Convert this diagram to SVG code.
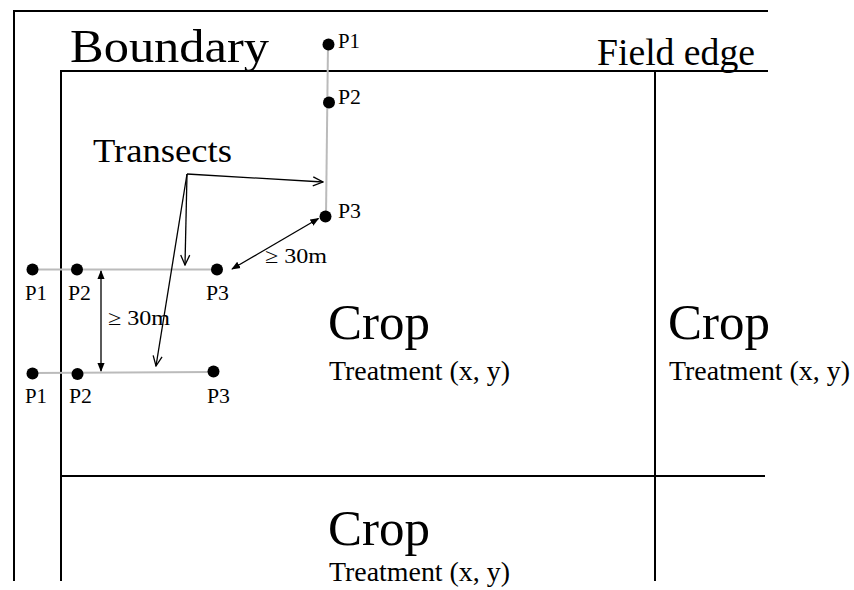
<svg xmlns="http://www.w3.org/2000/svg" width="854" height="590" viewBox="0 0 854 590">
<defs>
<style>
.frame{stroke:#000;stroke-width:2;fill:none}
.tr{stroke:#bbbbbb;stroke-width:2;fill:none}
.dot{fill:#000}
.ln{stroke:#000;stroke-width:1.3;fill:none}
text{font-family:"Liberation Serif","Times New Roman",serif;fill:#000}
.p{font-size:21px}
.crop{font-size:50px}
.treat{font-size:27px}
.dist{font-size:21px}
</style>
<marker id="fa" viewBox="0 0 10 10" refX="9" refY="5" markerWidth="9" markerHeight="9" markerUnits="userSpaceOnUse" orient="auto-start-reverse">
<path d="M0,1 L10,5 L0,9 Z" fill="#000"/>
</marker>
<marker id="oa" viewBox="0 0 12 12" refX="11" refY="6" markerWidth="12" markerHeight="12" markerUnits="userSpaceOnUse" orient="auto">
<path d="M1,1.5 L11,6 L1,10.5" fill="none" stroke="#000" stroke-width="1.3"/>
</marker>
</defs>
<rect width="854" height="590" fill="#fff"/>
<g id="field">
<line class="frame" x1="14" y1="11" x2="768" y2="11"/>
<line class="frame" x1="14" y1="10" x2="14" y2="581"/>
<line class="frame" x1="61" y1="71" x2="768" y2="71"/>
<line class="frame" x1="61" y1="70" x2="61" y2="581"/>
<line class="frame" x1="655" y1="71" x2="655" y2="581"/>
<line class="frame" x1="61" y1="476" x2="765" y2="476"/>
</g>
<g id="labels">
<text x="70" y="62" font-size="47" textLength="199" lengthAdjust="spacingAndGlyphs">Boundary</text>
<text x="597" y="65" font-size="37" textLength="158" lengthAdjust="spacingAndGlyphs">Field edge</text>
<text x="93" y="162" font-size="34" textLength="139" lengthAdjust="spacingAndGlyphs">Transects</text>
</g>
<g id="plot-centre">
<text class="crop" x="328" y="339" textLength="102" lengthAdjust="spacingAndGlyphs">Crop</text>
<text class="treat" x="329" y="380" textLength="181" lengthAdjust="spacingAndGlyphs">Treatment (x, y)</text>
</g>
<g id="plot-right">
<text class="crop" x="668" y="339" textLength="102" lengthAdjust="spacingAndGlyphs">Crop</text>
<text class="treat" x="669" y="380" textLength="181" lengthAdjust="spacingAndGlyphs">Treatment (x, y)</text>
</g>
<g id="plot-bottom">
<text class="crop" x="328" y="545" textLength="102" lengthAdjust="spacingAndGlyphs">Crop</text>
<text class="treat" x="329" y="581" textLength="181" lengthAdjust="spacingAndGlyphs">Treatment (x, y)</text>
</g>
<g id="transect-top">
<line class="tr" x1="328" y1="44" x2="326" y2="216"/>
<circle class="dot" cx="328.5" cy="44.5" r="6"/>
<circle class="dot" cx="329" cy="102.5" r="6"/>
<circle class="dot" cx="325.5" cy="216.5" r="6"/>
<text class="p" x="338" y="48" textLength="22" lengthAdjust="spacingAndGlyphs">P1</text>
<text class="p" x="338" y="104" textLength="23" lengthAdjust="spacingAndGlyphs">P2</text>
<text class="p" x="338" y="218" textLength="23" lengthAdjust="spacingAndGlyphs">P3</text>
</g>
<g id="transect-1">
<line class="tr" x1="32" y1="269.5" x2="217" y2="269.5"/>
<circle class="dot" cx="32.5" cy="269.5" r="6"/>
<circle class="dot" cx="77" cy="269.5" r="6"/>
<circle class="dot" cx="217" cy="269.5" r="6"/>
<text class="p" x="25" y="300" textLength="22" lengthAdjust="spacingAndGlyphs">P1</text>
<text class="p" x="68" y="300" textLength="23" lengthAdjust="spacingAndGlyphs">P2</text>
<text class="p" x="206" y="300" textLength="23" lengthAdjust="spacingAndGlyphs">P3</text>
</g>
<g id="transect-2">
<line class="tr" x1="32" y1="373" x2="213" y2="372"/>
<circle class="dot" cx="32.5" cy="373.5" r="6"/>
<circle class="dot" cx="77.5" cy="374" r="6"/>
<circle class="dot" cx="213.5" cy="371.5" r="6"/>
<text class="p" x="25" y="403" textLength="22" lengthAdjust="spacingAndGlyphs">P1</text>
<text class="p" x="69" y="403" textLength="23" lengthAdjust="spacingAndGlyphs">P2</text>
<text class="p" x="207" y="403" textLength="23" lengthAdjust="spacingAndGlyphs">P3</text>
</g>
<g id="connectors">
<line class="ln" x1="101" y1="271" x2="101" y2="371" marker-start="url(#fa)" marker-end="url(#fa)"/>
<line class="ln" x1="232" y1="269" x2="318.5" y2="218.5" marker-start="url(#fa)" marker-end="url(#fa)"/>
<line class="ln" x1="187" y1="174" x2="323" y2="182" marker-end="url(#oa)"/>
<line class="ln" x1="187" y1="174" x2="185" y2="265" marker-end="url(#oa)"/>
<line class="ln" x1="187" y1="174" x2="156" y2="366" marker-end="url(#oa)"/>
</g>
<g id="distances">
<text class="dist" x="108" y="325" textLength="62" lengthAdjust="spacingAndGlyphs">≥ 30m</text>
<text class="dist" x="265" y="263" textLength="62" lengthAdjust="spacingAndGlyphs">≥ 30m</text>
</g>
</svg>
